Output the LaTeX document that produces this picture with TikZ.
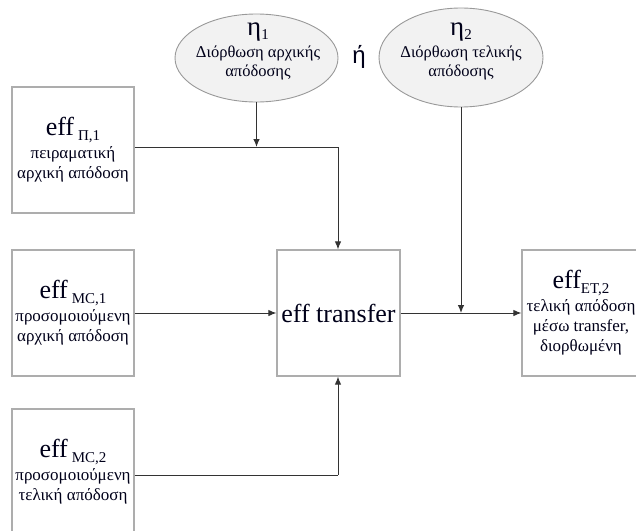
\documentclass[tikz,border=0pt]{standalone}
\usepackage{fontspec}
\setmainfont{Liberation Serif}
\newfontfamily\orsans{Liberation Sans}
\usetikzlibrary{arrows.meta,shapes.geometric}
\newcommand\EffBig[1]{{\fontsize{26}{28}\selectfont #1}}
\newcommand\SubLow[1]{\raisebox{-5pt}{\fontsize{15}{17}\selectfont #1}}
\newcommand\EtaBig[1]{{\fontsize{27}{28}\selectfont #1}}
\newcommand\EtaSub[1]{\raisebox{-4pt}{\fontsize{15}{16}\selectfont #1}}
\tikzset{
  box/.style={draw=black!32, line width=1.2pt, rectangle, minimum width=122pt, minimum height=126pt, inner sep=0pt, align=center, text=black!90!blue, font=\fontsize{17}{20}\selectfont},
  oval/.style={draw=black!40, line width=0.9pt, fill=black!5, ellipse, inner sep=0pt},
  ovaltext/.style={align=center, inner sep=0pt, text=black!90!blue, font=\fontsize{16.5}{19}\selectfont},
  conn/.style={draw=black!80, line width=1pt},
  arr/.style={conn, -{Latex[length=8pt,width=6.5pt]}}
}
\begin{document}
\begin{tikzpicture}[x=1pt,y=-1pt]
\useasboundingbox (0,0) rectangle (636,530);
\clip (0,0) rectangle (636,530);
% ovals
\node[oval, minimum width=163pt, minimum height=88pt] (e1) at (256.5,58) {};
\node[ovaltext] (e1t) at (258,51) {\EtaBig{η}\EtaSub{1}\\[3pt] Διόρθωση αρχικής\\ απόδοσης};
\node[oval, minimum width=164pt, minimum height=99pt] (e2) at (461,57.5) {};
\node[ovaltext] (e2t) at (461,51) {\EtaBig{η}\EtaSub{2}\\[3pt] Διόρθωση τελικής\\ απόδοσης};
\node[font=\orsans\fontsize{24}{26}\selectfont, text=black!90!blue] (or) at (359,57) {ή};
% boxes
\node[box] (b1) at (73,150) {\EffBig{eff}\hspace{4pt}\SubLow{Π,1}\\[3pt] πειραματική\\ αρχική απόδοση};
\node[box] (b2) at (73,313) {\EffBig{eff}\hspace{4pt}\SubLow{MC,1}\\[3pt] προσομοιούμενη\\ αρχική απόδοση};
\node[box] (b3) at (73,472) {\EffBig{eff}\hspace{4pt}\SubLow{MC,2}\\[3pt] προσομοιούμενη\\ τελική απόδοση};
\node[box, minimum width=123pt, font=\fontsize{26}{28}\selectfont] (tr) at (338.5,313) {eff transfer};
\node[box, minimum width=118pt] (et) at (581,313) {\EffBig{eff}\SubLow{ET,2}\\[3pt] τελική απόδοση\\ μέσω transfer,\\ διορθωμένη};
% junctions
\coordinate (j1) at (338,147);
\coordinate (j3) at (338,475);
% connectors
\draw[conn] (b1.east |- j1) -- (j1);
\draw[arr] (j1) -- (j1 |- tr.north);
\draw[arr] (e1.south) -- (e1.south |- j1);
\draw[arr] (b2.east) -- (tr.west);
\draw[arr] (tr.east) -- (et.west);
\draw[arr] (e2.south) -- (e2.south |- tr.east);
\draw[conn] (b3.east |- j3) -- (j3);
\draw[arr] (j3) -- (j3 |- tr.south);
\end{tikzpicture}
\end{document}
